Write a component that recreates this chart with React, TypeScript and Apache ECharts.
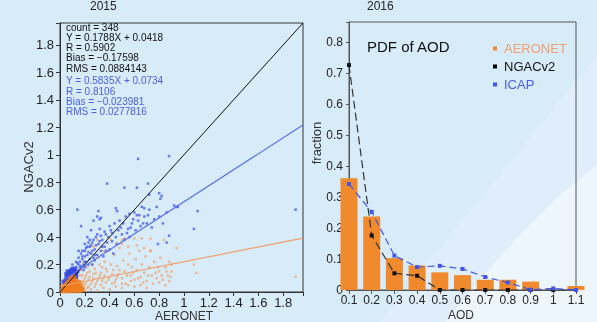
import React, { useEffect, useRef } from "react";
import * as echarts from "echarts";

// ---------- Left panel: scatter (2015) ----------
const yearTitles = ["2015", "2016"];
const scatterAxisMax = 1.96;
const fitIcap = { slope: 0.5835, intercept: 0.0734 };
const fitNgac = { slope: 0.1788, intercept: 0.0418 };
const statsNgac = ["count = 348", "Y = 0.1788X + 0.0418", "R = 0.5902", "Bias = \u22120.17598", "RMS = 0.0884143"];
const statsIcap = ["Y = 0.5835X + 0.0734", "R = 0.8106", "Bias = \u22120.023981", "RMS = 0.0277816"];

const icapDense: number[][] = [
  [0.05, 0.1], [0.06, 0.12], [0.07, 0.11], [0.08, 0.13], [0.09, 0.12], [0.1, 0.14], [0.11, 0.13], [0.12, 0.15],
  [0.07, 0.14], [0.08, 0.1], [0.09, 0.15], [0.1, 0.11], [0.11, 0.16], [0.12, 0.12], [0.13, 0.14], [0.06, 0.09],
  [0.05, 0.13], [0.04, 0.08], [0.1, 0.17], [0.13, 0.12], [0.14, 0.15], [0.12, 0.17], [0.09, 0.16],
  [0.08, 0.15], [0.11, 0.1], [0.13, 0.11], [0.03, 0.07], [0.07, 0.08], [0.06, 0.15], [0.12, 0.09],
];
const icapScatter: number[][] = [
  [0.2, 0.3], [0.22, 0.27], [0.24, 0.33], [0.25, 0.28], [0.26, 0.36], [0.27, 0.25], [0.28, 0.31], [0.29, 0.4],
  [0.3, 0.27], [0.31, 0.35], [0.32, 0.46], [0.33, 0.3], [0.34, 0.38], [0.35, 0.26], [0.36, 0.33], [0.37, 0.42],
  [0.38, 0.36], [0.4, 0.31], [0.41, 0.45], [0.42, 0.37], [0.43, 0.28], [0.44, 0.5], [0.45, 0.4], [0.46, 0.35],
  [0.48, 0.52], [0.5, 0.42], [0.52, 0.38], [0.53, 0.55], [0.55, 0.46], [0.56, 0.4], [0.58, 0.5], [0.6, 0.58],
  [0.61, 0.45], [0.63, 0.52], [0.65, 0.48], [0.66, 0.62], [0.68, 0.55], [0.7, 0.5], [0.72, 0.6], [0.74, 0.47],
  [0.76, 0.53], [0.78, 0.62], [0.8, 0.55], [0.83, 0.5], [0.86, 0.58], [0.92, 0.63], [0.95, 0.62],
  [0.21, 0.22], [0.23, 0.2], [0.18, 0.3], [0.2, 0.35], [0.22, 0.4], [0.25, 0.45], [0.27, 0.52], [0.3, 0.55],
  [0.26, 0.2], [0.28, 0.23], [0.15, 0.25], [0.17, 0.28], [0.19, 0.16], [0.16, 0.22], [0.14, 0.21], [0.17, 0.19],
  [0.15, 0.2], [0.18, 0.24], [0.2, 0.26], [0.19, 0.2], [0.16, 0.18], [0.1, 0.2], [0.13, 0.18],
  [0.21, 0.32], [0.23, 0.36], [0.24, 0.24], [0.26, 0.3], [0.27, 0.38], [0.29, 0.34], [0.3, 0.42], [0.32, 0.37],
  [0.33, 0.41], [0.34, 0.33], [0.36, 0.44], [0.37, 0.3], [0.39, 0.4], [0.4, 0.48], [0.42, 0.43], [0.18, 0.26],
  [0.2, 0.22], [0.22, 0.33], [0.24, 0.38], [0.25, 0.34], [0.15, 0.3], [0.13, 0.22], [0.2, 0.18], [0.23, 0.29],
  [0.28, 0.27], [0.47, 0.45], [0.49, 0.47], [0.51, 0.5], [0.54, 0.43], [0.57, 0.47], [0.59, 0.53], [0.64, 0.56],
  [0.67, 0.5], [0.71, 0.56],
  [0.63, 0.97], [0.88, 0.99], [0.38, 0.79], [0.52, 0.76], [0.62, 0.76], [0.71, 0.79], [0.8, 0.72], [0.82, 0.7],
  [0.81, 0.68], [0.14, 0.6], [0.17, 0.48], [0.31, 0.59], [0.32, 0.53], [0.33, 0.54], [0.45, 0.61], [0.46, 0.59],
  [0.56, 0.57], [0.62, 0.56], [0.68, 0.61], [1.11, 0.59], [1.08, 0.46], [0.94, 0.62], [0.88, 0.41], [0.79, 0.35],
  [1.9, 0.6], [1.97, 0.66], [1.97, 0.6], [0.72, 0.71], [0.86, 0.36],
];
const ngacDense: number[][] = [
  [0.02, 0.01], [0.03, 0.02], [0.04, 0.01], [0.05, 0.03], [0.06, 0.02], [0.07, 0.04], [0.08, 0.03], [0.09, 0.05],
  [0.1, 0.04], [0.11, 0.06], [0.12, 0.03], [0.13, 0.05], [0.14, 0.02], [0.15, 0.04], [0.16, 0.01], [0.05, 0.05],
  [0.06, 0.06], [0.07, 0.07], [0.08, 0.08], [0.09, 0.07], [0.1, 0.08], [0.11, 0.09], [0.12, 0.07], [0.13, 0.08],
  [0.08, 0.01], [0.1, 0.02], [0.12, 0.01], [0.14, 0.06], [0.06, 0.04], [0.09, 0.02], [0.11, 0.03], [0.13, 0.02],
  [0.04, 0.03], [0.07, 0.01], [0.1, 0.06], [0.12, 0.05], [0.15, 0.07], [0.09, 0.1], [0.11, 0.11], [0.08, 0.06],
  [0.16, 0.05], [0.17, 0.03], [0.18, 0.02], [0.03, 0.04], [0.05, 0.01],
];
const ngacScatter: number[][] = [
  [0.18, 0.08], [0.2, 0.05], [0.21, 0.12], [0.22, 0.03], [0.23, 0.09], [0.24, 0.15], [0.25, 0.06], [0.26, 0.2],
  [0.27, 0.1], [0.28, 0.04], [0.29, 0.14], [0.3, 0.08], [0.31, 0.25], [0.32, 0.12], [0.33, 0.05], [0.34, 0.18],
  [0.35, 0.1], [0.36, 0.22], [0.37, 0.07], [0.38, 0.15], [0.39, 0.3], [0.4, 0.11], [0.41, 0.2], [0.42, 0.06],
  [0.43, 0.16], [0.44, 0.27], [0.45, 0.09], [0.46, 0.19], [0.47, 0.13], [0.48, 0.32], [0.5, 0.1], [0.51, 0.23],
  [0.52, 0.15], [0.53, 0.06], [0.55, 0.2], [0.56, 0.28], [0.57, 0.12], [0.58, 0.18], [0.6, 0.09], [0.61, 0.24],
  [0.62, 0.16], [0.64, 0.3], [0.65, 0.11], [0.66, 0.2], [0.68, 0.14], [0.69, 0.26], [0.7, 0.08], [0.72, 0.18],
  [0.73, 0.3], [0.74, 0.12], [0.76, 0.22], [0.78, 0.1], [0.8, 0.15], [0.81, 0.25], [0.83, 0.09], [0.85, 0.18],
  [0.87, 0.12], [0.88, 0.22], [0.9, 0.15], [0.3, 0.38], [0.41, 0.38], [0.5, 0.38], [0.52, 0.39], [0.6, 0.39],
  [0.66, 0.39], [0.73, 0.39], [0.84, 0.38], [0.5, 0.35], [0.68, 0.32], [0.73, 0.3], [0.94, 0.32], [0.9, 0.2],
  [1.08, 0.2], [1.1, 0.14], [1.9, 0.11], [1.97, 0.11], [1.97, 0.29], [1.97, 0.45], [0.19, 0.22], [0.2, 0.3],
  [0.22, 0.18], [0.16, 0.12], [0.17, 0.16], [0.25, 0.28], [0.27, 0.33], [0.35, 0.3], [0.45, 0.35], [0.55, 0.33],
  [0.62, 0.34], [0.2, 0.01], [0.25, 0.02], [0.3, 0.01], [0.35, 0.03], [0.4, 0.02], [0.45, 0.04], [0.5, 0.03],
  [0.55, 0.05], [0.6, 0.04], [0.65, 0.05], [0.7, 0.03], [0.75, 0.06], [0.8, 0.07], [0.85, 0.05], [0.88, 0.08],
  [0.18, 0.12], [0.19, 0.06], [0.2, 0.1], [0.21, 0.07], [0.22, 0.14], [0.23, 0.04], [0.24, 0.11], [0.26, 0.08],
  [0.27, 0.13], [0.28, 0.17], [0.29, 0.06], [0.31, 0.1], [0.32, 0.2], [0.33, 0.14], [0.34, 0.08], [0.36, 0.12],
  [0.37, 0.17], [0.39, 0.09], [0.42, 0.13], [0.44, 0.07], [0.46, 0.11], [0.48, 0.16], [0.5, 0.06], [0.54, 0.12],
  [0.57, 0.08], [0.59, 0.14], [0.63, 0.1], [0.67, 0.07], [0.71, 0.12], [0.77, 0.14], [0.79, 0.18], [0.82, 0.12],
  [0.86, 0.15], [0.89, 0.11],
];

// ---------- Right panel: PDF of AOD (2016) ----------
const pdfTitle = "PDF of AOD";
const aodBins = [0.1, 0.2, 0.3, 0.4, 0.5, 0.6, 0.7, 0.8, 0.9, 1.0, 1.1];
const aeronetFrac = [0.361, 0.237, 0.103, 0.079, 0.057, 0.048, 0.033, 0.033, 0.027, 0, 0.013];
const ngacFrac = [0.726, 0.176, 0.054, 0.046, 0, 0, 0, 0, 0, 0, 0];
const icapFrac = [0.342, 0.252, 0.111, 0.074, 0.078, 0.068, 0.042, 0.024, 0.001, 0.005, 0];

const FONT = "'Liberation Sans', 'DejaVu Sans', sans-serif";
const ORANGE = "#f08a2c";
const ORANGE_LIGHT = "rgba(240,160,100,0.85)";
const BLUE = "#4257e6";
const BLUE_TEXT = "#4a5ee8";

const fmt1 = (v: number) => {
  const r = Math.round(v * 10) / 10;
  if (Math.abs(v - r) > 1e-6) return "";
  return String(r);
};
const fmt2 = (v: number) => {
  const r = Math.round(v * 5) / 5;
  if (Math.abs(v - r) > 1e-6) return "";
  return String(Math.round(r * 10) / 10);
};

export default function App() {
  const ref = useRef<HTMLDivElement>(null);
  useEffect(() => {
    if (!ref.current) return;
    const chart = echarts.init(ref.current, undefined, { renderer: "svg" });
    const zip = (xs: number[], ys: number[]) => xs.map((x, i) => [x, ys[i]]);
    const fitLine = (f: { slope: number; intercept: number }) => [
      [0, f.intercept],
      [scatterAxisMax, f.slope * scatterAxisMax + f.intercept],
    ];
    const axisLabel = { color: "#222", fontSize: 13, fontFamily: FONT };

    chart.setOption({
      animation: false,
      backgroundColor: "transparent",
      graphic: [
        { type: "rect", shape: { x: 0, y: 0, width: 597, height: 322 }, z: -10, silent: true, style: { fill: "#d7ebf9" } },
        {
          type: "polygon", z: -9, silent: true,
          shape: { points: [[380, 322], [597, 55], [597, 322]] },
          style: { fill: "#e0eefb" },
        },
        {
          type: "polygon", z: -8, silent: true,
          shape: { points: [[445, 322], [475, 285], [515, 240], [560, 195], [597, 165], [597, 322]] },
          style: { fill: "#edf5fd" },
        },
        { type: "text", left: 90, top: 0, style: { text: yearTitles[0], fill: "#222", font: `12px ${FONT}` } },
        { type: "text", left: 367, top: 0, style: { text: yearTitles[1], fill: "#222", font: `12px ${FONT}` } },
        {
          type: "text", left: 66, top: 22, z: 10,
          style: { text: statsNgac.join("\n"), fill: "#111", font: `10px ${FONT}`, lineHeight: 10.25 },
        },
        {
          type: "text", left: 66, top: 75.5, z: 10,
          style: { text: statsIcap.join("\n"), fill: BLUE_TEXT, font: `10px ${FONT}`, lineHeight: 10.4 },
        },
        { type: "text", left: 367, top: 39, z: 10, style: { text: pdfTitle, fill: "#111", font: `15px ${FONT}` } },
        { type: "text", left: 155, top: 310, style: { text: "AERONET", fill: "#333", font: `12px ${FONT}` } },
        { type: "text", left: 448, top: 309, style: { text: "AOD", fill: "#333", font: `12px ${FONT}` } },
        {
          type: "text", x: 28, y: 167, rotation: Math.PI / 2,
          style: { text: "NGACv2", fill: "#333", font: `13px ${FONT}`, align: "center", verticalAlign: "middle" },
        },
        {
          type: "text", x: 316, y: 143, rotation: Math.PI / 2,
          style: { text: "fraction", fill: "#333", font: `13px ${FONT}`, align: "center", verticalAlign: "middle" },
        },
      ],
      legend: {
        orient: "vertical",
        left: 488,
        top: 37,
        itemWidth: 4,
        itemHeight: 4,
        itemGap: 5,
        icon: "rect",
        selectedMode: false,
        textStyle: { fontSize: 13, fontFamily: FONT, padding: [0, 0, 0, 2] },
        data: [
          { name: "AERONET", itemStyle: { color: ORANGE }, textStyle: { color: "#f0a070" } },
          { name: "NGACv2", itemStyle: { color: "#000" }, textStyle: { color: "#111" } },
          { name: "ICAP", itemStyle: { color: BLUE }, textStyle: { color: BLUE_TEXT } },
        ],
      },
      grid: [
        { left: 60, top: 23, right: 294, bottom: 30, show: true, borderColor: "#333", borderWidth: 1, backgroundColor: "transparent" },
        { left: 349, top: 22, right: 21, bottom: 32, show: true, borderColor: "#555", borderWidth: 1, backgroundColor: "transparent" },
      ],
      xAxis: [
        {
          type: "value", gridIndex: 0, min: 0, max: scatterAxisMax, interval: 0.2,
          splitLine: { show: false },
          axisLine: { lineStyle: { color: "#333" } },
          axisTick: { length: 4, lineStyle: { color: "#333" } },
          axisLabel: { ...axisLabel, margin: 4, formatter: fmt2 },
        },
        {
          type: "value", gridIndex: 1, min: 0.1, max: 1.1, interval: 0.1,
          splitLine: { show: false },
          axisLine: { lineStyle: { color: "#555" } },
          axisTick: { length: 4, lineStyle: { color: "#555" } },
          axisLabel: { ...axisLabel, fontSize: 12, margin: 4, formatter: fmt1 },
        },
      ],
      yAxis: [
        {
          type: "value", gridIndex: 0, min: 0, max: scatterAxisMax, interval: 0.2,
          splitLine: { show: false },
          axisLine: { lineStyle: { color: "#333" } },
          axisTick: { length: 4, lineStyle: { color: "#333" } },
          axisLabel: { ...axisLabel, margin: 6, formatter: fmt2 },
        },
        {
          type: "value", gridIndex: 1, min: 0, max: 0.865, interval: 0.1,
          splitLine: { show: false },
          axisLine: { lineStyle: { color: "#555" } },
          axisTick: { length: 3, lineStyle: { color: "#555" } },
          axisLabel: { ...axisLabel, fontSize: 12, margin: 6, formatter: fmt1 },
        },
      ],
      series: [
        {
          name: "NGACv2 vs AERONET", type: "scatter", xAxisIndex: 0, yAxisIndex: 0,
          symbol: "rect", symbolSize: 2.5, itemStyle: { color: ORANGE_LIGHT }, data: ngacScatter,
        },
        {
          name: "ICAP vs AERONET", type: "scatter", xAxisIndex: 0, yAxisIndex: 0,
          symbol: "rect", symbolSize: 2.5, itemStyle: { color: "rgba(60,80,230,0.9)" }, data: icapScatter,
        },
        {
          name: "ICAP dense", type: "scatter", xAxisIndex: 0, yAxisIndex: 0,
          symbol: "rect", symbolSize: 4, itemStyle: { color: "#3346e0" }, data: icapDense,
        },
        {
          name: "NGAC dense", type: "scatter", xAxisIndex: 0, yAxisIndex: 0,
          symbol: "rect", symbolSize: 5, itemStyle: { color: "#f07d1e" }, data: ngacDense,
        },
        {
          name: "1:1", type: "line", xAxisIndex: 0, yAxisIndex: 0, symbol: "none",
          lineStyle: { color: "#111", width: 1 }, data: [[0, 0], [scatterAxisMax, scatterAxisMax]], z: 5,
        },
        {
          name: "ICAP fit", type: "line", xAxisIndex: 0, yAxisIndex: 0, symbol: "none",
          lineStyle: { color: "#5a6fe8", width: 1.2 }, data: fitLine(fitIcap), z: 5,
        },
        {
          name: "NGAC fit", type: "line", xAxisIndex: 0, yAxisIndex: 0, symbol: "none",
          lineStyle: { color: "#f0a070", width: 1.2 }, data: fitLine(fitNgac), z: 5,
        },
        {
          name: "AERONET", type: "bar", xAxisIndex: 1, yAxisIndex: 1, barWidth: 17,
          itemStyle: { color: ORANGE }, data: zip(aodBins, aeronetFrac),
        },
        {
          name: "NGACv2", type: "line", xAxisIndex: 1, yAxisIndex: 1,
          symbol: "rect", symbolSize: 4, itemStyle: { color: "#111" },
          lineStyle: { color: "#333", width: 1.2, type: [8, 4] }, data: zip(aodBins, ngacFrac), z: 4,
        },
        {
          name: "ICAP", type: "line", xAxisIndex: 1, yAxisIndex: 1,
          symbol: "rect", symbolSize: 4, itemStyle: { color: BLUE },
          lineStyle: { color: BLUE, width: 1.2, type: [7, 4] }, data: zip(aodBins, icapFrac), z: 4,
        },
      ],
    });
    return () => chart.dispose();
  }, []);
  return <div ref={ref} style={{ width: 597, height: 322, position: "fixed", left: 0, top: 0 }} />;
}
